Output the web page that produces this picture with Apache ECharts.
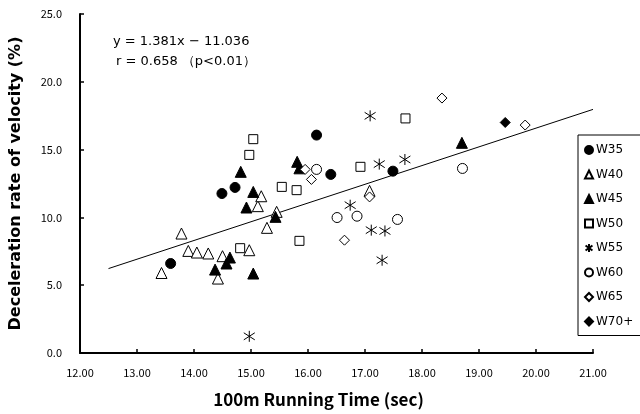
<!DOCTYPE html>
<html>
<head>
<meta charset="utf-8">
<script src="https://cdn.jsdelivr.net/npm/echarts@6/dist/echarts.min.js"></script>
<style>
  html, body { margin: 0; padding: 0; background: #fff; }
  #chart { width: 640px; height: 414px; }
</style>
</head>
<body>
<div id="chart"></div>
<script>
// 各年齢階級の点 [100m time, deceleration %]
const w35 = [[14.49, 11.76], [14.72, 12.21], [13.59, 6.60], [16.15, 16.07], [16.40, 13.17], [17.49, 13.41]];
const w40 = [[13.43, 5.90], [13.78, 8.81], [13.90, 7.53], [14.05, 7.41], [14.25, 7.34], [14.50, 7.14],
             [14.42, 5.49], [14.97, 7.58], [15.12, 10.83], [15.18, 11.56], [15.28, 9.23], [15.45, 10.41], [17.08, 11.96]];
const w45 = [[14.82, 13.36], [15.04, 11.88], [14.92, 10.73], [15.43, 10.04], [14.63, 7.04], [14.57, 6.60],
             [14.37, 6.15], [15.04, 5.86], [15.81, 14.10], [15.85, 13.62], [18.70, 15.50]];
const w50 = [[15.04, 15.77], [14.97, 14.61], [15.54, 12.25], [15.80, 12.01], [14.81, 7.73], [15.85, 8.27],
             [16.92, 13.73], [17.71, 17.30]];
const w55 = [[17.09, 17.49], [17.25, 13.93], [17.70, 14.27], [16.74, 10.90], [17.11, 9.06], [17.35, 9.00],
             [17.30, 6.84], [14.97, 1.23]];
const w60 = [[16.15, 13.54], [16.51, 9.99], [16.86, 10.09], [17.57, 9.85], [18.71, 13.61]];
const w65 = [[15.95, 13.54], [16.06, 12.80], [17.08, 11.51], [16.64, 8.32], [18.35, 18.80], [19.81, 16.81]];
const w70 = [[19.46, 17.00]];

// 回帰直線
const fitSlope = 1.381;
const fitIntercept = -11.036;
const fitRange = [12.5, 21];

const groupNames = ["W35", "W40", "W45", "W50", "W55", "W60", "W65", "W70+"];
const groupData = [w35, w40, w45, w50, w55, w60, w65, w70];

const asterisk = "path://M5,0L5,10M0.7,1.8L9.3,8.2M0.7,8.2L9.3,1.8";
const symbolStyles = [
    { symbol: "circle", size: 10, fill: "#000" },
    { symbol: "triangle", size: 11, fill: "#fff" },
    { symbol: "triangle", size: 11, fill: "#000" },
    { symbol: "rect", size: 9, fill: "#fff" },
    { symbol: asterisk, size: 11, fill: "transparent" },
    { symbol: "circle", size: 10, fill: "#fff" },
    { symbol: "diamond", size: 10, fill: "#fff" },
    { symbol: "diamond", size: 10, fill: "#000" }
];

const font = "'Noto Sans CJK JP', 'DejaVu Sans', sans-serif";
const noteFont = "'DejaVu Sans', sans-serif";

const series = groupNames.map((name, i) => ({
    name: name,
    type: "scatter",
    data: groupData[i],
    symbol: symbolStyles[i].symbol,
    symbolSize: symbolStyles[i].size,
    itemStyle: {
        color: symbolStyles[i].fill,
        borderColor: "#000",
        borderWidth: 1,
        opacity: 1
    },
    z: 3
}));

series.push({
    type: "line",
    data: fitRange.map(x => [x, fitSlope * x + fitIntercept]),
    symbol: "none",
    silent: true,
    lineStyle: { color: "#000", width: 1 },
    z: 2
});

const chart = echarts.init(document.getElementById("chart"));
chart.setOption({
    animation: false,
    textStyle: { fontFamily: font },
    grid: { left: 80, right: 47, top: 14, bottom: 61, containLabel: false },
    xAxis: {
        type: "value",
        min: 12, max: 21, interval: 1,
        name: "100m Running Time (sec)",
        nameLocation: "middle",
        nameGap: 38,
        nameTextStyle: { color: "#000", fontSize: 17, fontWeight: "bold", fontFamily: font, padding: [0, 36, 0, 0] },
        axisLine: { lineStyle: { color: "#000", width: 2 } },
        axisTick: { inside: true, length: 4, lineStyle: { color: "#000", width: 1.5 } },
        axisLabel: { color: "#000", fontSize: 11, margin: 14, formatter: v => v.toFixed(2) },
        splitLine: { show: false }
    },
    yAxis: {
        type: "value",
        min: 0, max: 25, interval: 5,
        name: "Deceleration rate of velocity (%)",
        nameLocation: "middle",
        nameGap: 56,
        nameTextStyle: { color: "#000", fontSize: 16, fontWeight: "bold", fontFamily: noteFont },
        axisLine: { show: true, lineStyle: { color: "#000", width: 2 } },
        axisTick: { show: true, inside: true, length: 4, lineStyle: { color: "#000", width: 1.5 } },
        axisLabel: { color: "#000", fontSize: 11, margin: 18, formatter: v => v.toFixed(1) },
        splitLine: { show: false }
    },
    legend: {
        data: groupNames,
        orient: "vertical",
        left: 578,
        top: 135,
        width: 70,
        padding: [8, 20, 7, 6],
        itemGap: 10.5,
        itemWidth: 8,
        itemHeight: 8,
        backgroundColor: "#fff",
        borderColor: "#000",
        borderWidth: 1,
        textStyle: { color: "#000", fontSize: 12, lineHeight: 14, fontFamily: noteFont, padding: [0, 0, 0, -2] }
    },
    graphic: [
        {
            type: "text", left: 113, top: 35,
            style: { text: "y = 1.381x − 11.036", fill: "#000", font: "13px " + noteFont }
        },
        {
            type: "text", left: 116, top: 55,
            style: { text: "r = 0.658 （p<0.01）", fill: "#000", font: "13px " + noteFont }
        }
    ],
    series: series
});
</script>
</body>
</html>
